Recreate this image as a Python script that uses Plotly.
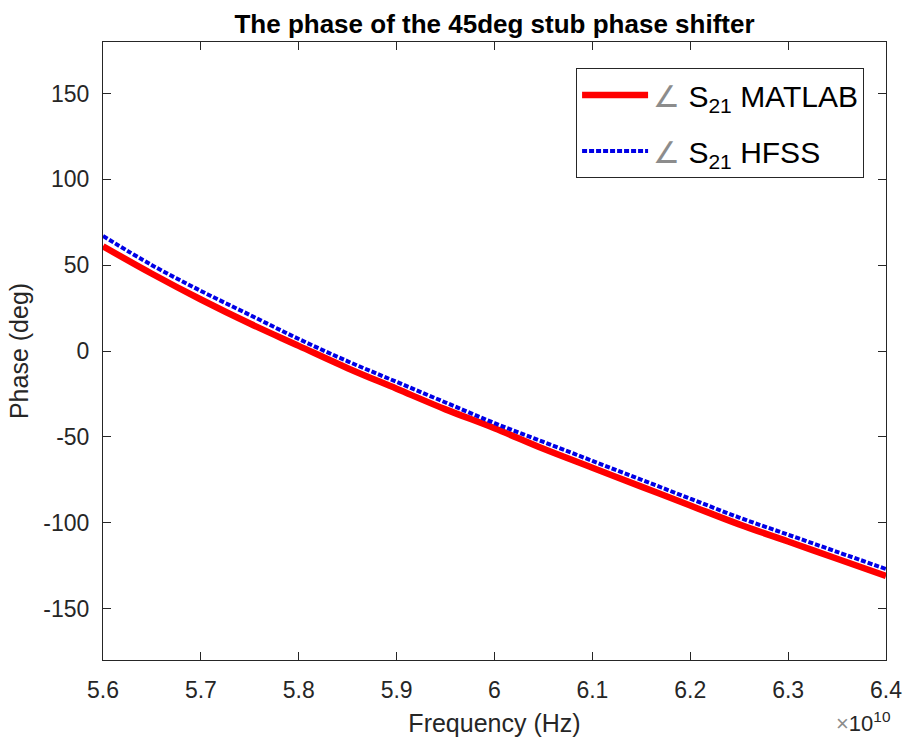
import plotly.graph_objects as go

# Frequency sweep (Hz) and S21 phase (deg)
freq_hz = [5.60e10, 5.65e10, 5.70e10, 5.75e10, 5.80e10, 5.85e10, 5.90e10, 5.95e10,
           6.00e10, 6.05e10, 6.10e10, 6.15e10, 6.20e10, 6.25e10, 6.30e10, 6.35e10, 6.40e10]
phase_matlab = [61, 45, 30, 16, 3, -10, -22, -34, -45, -57, -68, -79, -90, -101, -111, -121, -131]
phase_hfss = [67, 50, 35, 21, 7, -6, -18, -30, -42, -53, -64, -75, -86, -97, -107, -117, -127]

x_tick_vals = [5.6e10, 5.7e10, 5.8e10, 5.9e10, 6.0e10, 6.1e10, 6.2e10, 6.3e10, 6.4e10]
x_tick_text = ["5.6", "5.7", "5.8", "5.9", "6", "6.1", "6.2", "6.3", "6.4"]
y_tick_vals = [-150, -100, -50, 0, 50, 100, 150]
y_tick_text = ["-150", "-100", "-50", "0", "50", "100", "150"]

FONT = "Liberation Sans, Arial, Helvetica, sans-serif"
AX = "#262626"
ANG = "<span style='color:#8c8c8c;font-size:30px'>∠</span>"

fig = go.Figure()
fig.add_trace(go.Scatter(
    x=freq_hz, y=phase_matlab, mode="lines",
    name=f"{ANG} S<sub>21</sub> MATLAB", legendgroup="matlab",
    line=dict(color="#ff0000", width=6.5, shape="spline"),
))
fig.add_trace(go.Scatter(
    x=freq_hz, y=phase_hfss, mode="lines",
    name=f"{ANG} S<sub>21</sub> HFSS", legendgroup="hfss",
    line=dict(color="#0000e6", width=4, dash="5px,2px", shape="spline"),
))

axis_common = dict(
    showline=True, linecolor=AX, linewidth=1, mirror="ticks",
    ticks="inside", ticklen=8, tickcolor=AX, showgrid=False, zeroline=False,
    automargin=False,
    tickfont=dict(family=FONT, size=23, color=AX),
)

fig.update_xaxes(
    range=[5.6e10, 6.4e10], tickvals=x_tick_vals, ticktext=x_tick_text,
    ticklabelstandoff=9,
    title=dict(text="Frequency (Hz)", font=dict(family=FONT, size=25, color=AX), standoff=12),
    **axis_common,
)
fig.update_yaxes(
    range=[-180, 180], tickvals=y_tick_vals, ticktext=y_tick_text,
    ticklabelstandoff=8,
    title=dict(text="Phase (deg)", font=dict(family=FONT, size=25, color=AX), standoff=7),
    **axis_common,
)

fig.add_annotation(
    xref="paper", yref="paper", x=1.0, y=-0.1, xanchor="right", yanchor="middle",
    xshift=6, text="<span style='color:#8c8c8c'>×</span>10<sup>10</sup>", showarrow=False,
    font=dict(family=FONT, size=22, color=AX),
)

fig.update_layout(
    width=907, height=740,
    margin=dict(l=103, r=21, t=42, b=80),
    paper_bgcolor="white", plot_bgcolor="white",
    title=dict(
        text="<b>The phase of the 45deg stub phase shifter</b>",
        x=(103 + 886) / 2 / 907, xanchor="center", y=1 - 24 / 740, yanchor="middle",
        font=dict(family=FONT, size=26, color="black"),
    ),
    legend=dict(
        x=0.972, y=0.958, xanchor="right", yanchor="top",
        bgcolor="white", bordercolor=AX, borderwidth=1,
        font=dict(family=FONT, size=30, color="black"),
        itemwidth=66, traceorder="grouped", tracegroupgap=14,
    ),
    showlegend=True,
)

fig.write_html("out.html")
